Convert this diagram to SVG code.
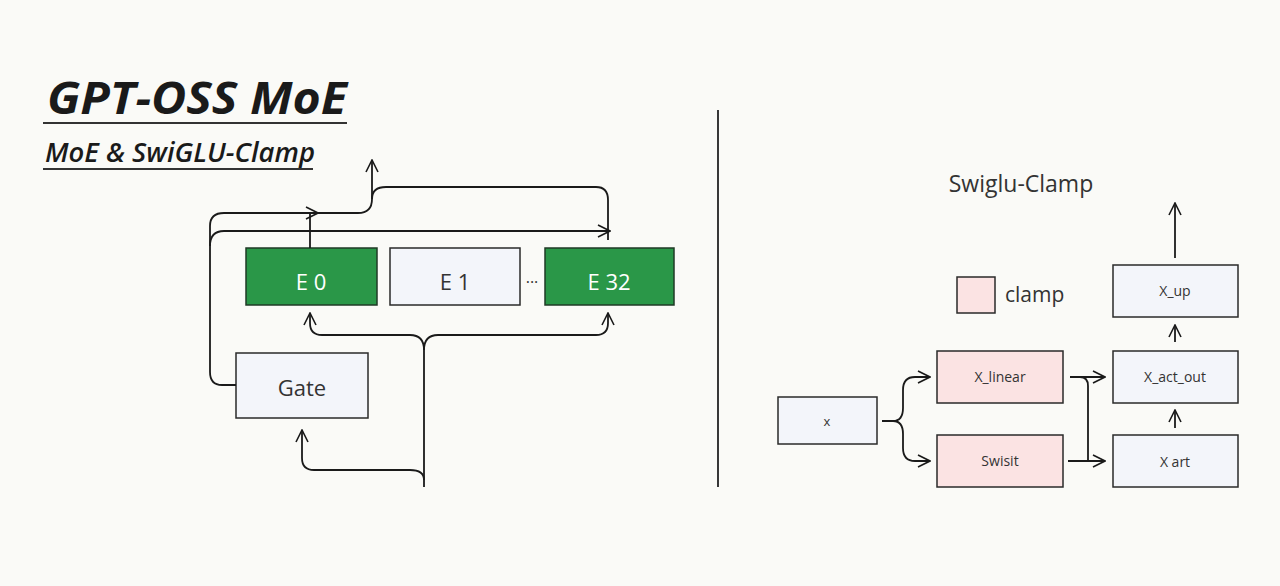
<svg xmlns="http://www.w3.org/2000/svg" width="1280" height="586" viewBox="0 0 1280 586">
<defs>
<marker id="ah" viewBox="0 0 14 14" refX="13" refY="7" markerWidth="14" markerHeight="14" markerUnits="userSpaceOnUse" orient="auto">
<path d="M1,1 L13,7 L1,13" fill="none" stroke="#1a1a1a" stroke-width="1.6"/>
</marker>
</defs>
<style>
.ln{fill:none;stroke:#1a1a1a;stroke-width:1.8}
.g{fill:#2a9748;stroke:#1f3a26;stroke-width:1.5}
.w{fill:#f3f5fa;stroke:#2a2a2a;stroke-width:1.5}
.p{fill:#fbe3e3;stroke:#2a2a2a;stroke-width:1.5}
.t{font-family:"Open Sans","DejaVu Sans",sans-serif;text-anchor:middle;fill:#333}
</style>
<rect width="1280" height="586" fill="#fafaf7"/>
<text x="47" y="114" font-family="'Open Sans','DejaVu Sans',sans-serif" font-size="44" font-weight="bold" font-style="italic" fill="#1a1a1a" textLength="300" lengthAdjust="spacingAndGlyphs">GPT-OSS MoE</text>
<line x1="43" y1="123" x2="347" y2="123" stroke="#333" stroke-width="2"/>
<text x="45" y="162" font-family="'Open Sans','DejaVu Sans',sans-serif" font-size="27" font-weight="600" font-style="italic" fill="#1a1a1a" textLength="270" lengthAdjust="spacingAndGlyphs">MoE &amp; SwiGLU-Clamp</text>
<line x1="43" y1="169" x2="313" y2="169" stroke="#333" stroke-width="1.8"/>
<line x1="718" y1="110" x2="718" y2="487" stroke="#222" stroke-width="1.8"/>
<g id="E0"><rect class="g" x="246" y="248" width="131" height="57"/><text class="t" x="311" y="290" font-size="22" style="fill:#fff">E 0</text></g>
<g id="E1"><rect class="w" x="390" y="248" width="130" height="57"/><text class="t" x="455" y="290" font-size="22">E 1</text></g>
<text x="532" y="288" class="t" font-size="16">···</text>
<g id="E32"><rect class="g" x="545" y="248" width="129" height="57"/><text class="t" x="609" y="290" font-size="22" style="fill:#fff">E 32</text></g>
<g id="Gate"><rect class="w" x="236" y="353" width="132" height="65"/><text class="t" x="302" y="396" font-size="22">Gate</text></g>
<g id="title2"><text class="t" x="1021" y="192" font-size="23">Swiglu-Clamp</text></g>
<g id="legend"><rect class="p" x="957" y="277" width="38" height="36"/><text x="1005" y="302" font-family="'Open Sans','DejaVu Sans',sans-serif" font-size="21" fill="#333">clamp</text></g>
<g id="x"><rect class="w" x="778" y="397" width="99" height="47"/><text class="t" x="827" y="426" font-size="13">x</text></g>
<g id="X_linear"><rect class="p" x="937" y="351" width="126" height="52"/><text class="t" x="1000" y="382" font-size="14">X_linear</text></g>
<g id="Swisit"><rect class="p" x="937" y="435" width="126" height="52"/><text class="t" x="1000" y="466" font-size="14">Swisit</text></g>
<g id="X_up"><rect class="w" x="1113" y="265" width="125" height="52"/><text class="t" x="1175" y="296" font-size="14">X_up</text></g>
<g id="X_act_out"><rect class="w" x="1113" y="351" width="125" height="52"/><text class="t" x="1175" y="382" font-size="14">X_act_out</text></g>
<g id="X_art"><rect class="w" x="1113" y="435" width="125" height="52"/><text class="t" x="1175" y="467" font-size="14">X art</text></g>
<g id="connectors">
<path class="ln" d="M424,487 V350 Q424,335 410,335 H322 Q310,335 310,323 V313" marker-end="url(#ah)"/>
<path class="ln" d="M424,350 Q424,335 438,335 H596 Q608,335 608,323 V313" marker-end="url(#ah)"/>
<path class="ln" d="M424,480 Q424,470 410,470 H314 Q302,470 302,458 V430" marker-end="url(#ah)"/>
<path class="ln" d="M236,385 H222 Q210,385 210,372 V226 Q210,213 224,213 H318" marker-end="url(#ah)"/>
<path class="ln" d="M210,246 Q210,231 224,231 H610" marker-end="url(#ah)"/>
<path class="ln" d="M310,248 V213 H358 Q372,213 372,199 V160" marker-end="url(#ah)"/>
<path class="ln" d="M372,199 Q372,187 386,187 H596 Q608,187 608,200 V240"/>
<path class="ln" d="M1175,258 V203" marker-end="url(#ah)"/>
<path class="ln" d="M1175,342 V325" marker-end="url(#ah)"/>
<path class="ln" d="M1175,428 V410" marker-end="url(#ah)"/>
<path class="ln" d="M882,421 H893 Q903,421 903,408 V390 Q903,377 915,377 H930" marker-end="url(#ah)"/>
<path class="ln" d="M893,421 Q903,421 903,434 V448 Q903,461 915,461 H930" marker-end="url(#ah)"/>
<path class="ln" d="M1070,377 H1105" marker-end="url(#ah)"/>
<path class="ln" d="M1068,461 H1105" marker-end="url(#ah)"/>
<path class="ln" d="M1080,377 Q1088,377 1088,386 V461"/>
</g>
</svg>
